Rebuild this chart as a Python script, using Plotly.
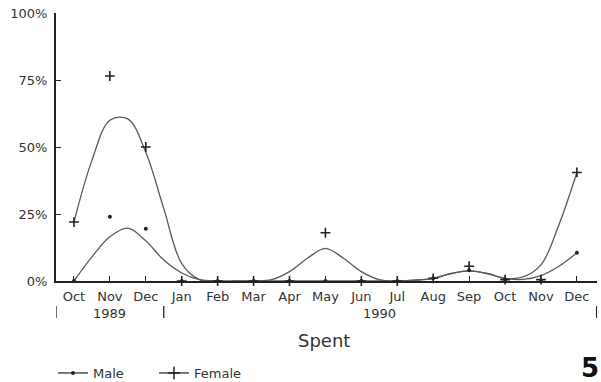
import plotly.graph_objects as go

months = ["Oct", "Nov", "Dec", "Jan", "Feb", "Mar", "Apr", "May",
          "Jun", "Jul", "Aug", "Sep", "Oct", "Nov", "Dec"]
month_pos = list(range(len(months)))

female = [22, 76.5, 50, 0, 0, 0, 0, 18, 0, 0, 1, 5.5, 0.5, 0.5, 40.5]
male = [0, 24, 19.5, 0, 0, 0, 0, 0, 0, 0, 1, 4, 0.5, 0, 10.5]

# smoothed curves at half-month steps
fit_pos = [i * 0.5 for i in range(29)]
female_fit = [22, 45, 60, 60.5, 48, 27, 6.5, 0.5, 0, 0, 0, 0.5, 3.5, 8.5, 12.2,
              8.5, 3.5, 0.5, 0, 0.3, 1, 2.8, 3.8, 2.8, 1, 1.5, 6, 21, 40.5]
male_fit = [0, 9, 16.5, 19.7, 15, 7.8, 3, 0.5, 0, 0, 0, 0, 0, 0, 0,
            0, 0, 0, 0, 0.3, 1, 2.8, 3.8, 2.8, 1, 0.6, 2, 5.5, 10.5]

y_ticks = [0, 25, 50, 75, 100]
y_labels = ["0%", "25%", "50%", "75%", "100%"]
years = ["1989", "1990"]
year_centers = [1, 8.5]
year_bounds = [-0.5, 2.5, 14.55]

LINE = "#5a5a5a"
INK = "#222222"
TXT = "#333333"
FONT = "DejaVu Sans"

fig = go.Figure()
fig.add_trace(go.Scatter(x=fit_pos, y=female_fit, mode="lines",
                         line=dict(color=LINE, width=1.3, shape="spline", smoothing=1.0),
                         showlegend=False, hoverinfo="skip", cliponaxis=False))
fig.add_trace(go.Scatter(x=fit_pos, y=male_fit, mode="lines",
                         line=dict(color=LINE, width=1.3, shape="spline", smoothing=1.0),
                         showlegend=False, hoverinfo="skip", cliponaxis=False))
fig.add_trace(go.Scatter(x=month_pos, y=female, mode="markers",
                         marker=dict(symbol="cross-thin", size=7, color=INK,
                                     line=dict(color=INK, width=1.6)),
                         showlegend=False, cliponaxis=False))
fig.add_trace(go.Scatter(x=month_pos, y=male, mode="markers",
                         marker=dict(symbol="circle", size=4, color=INK),
                         showlegend=False, cliponaxis=False))
# legend entries
fig.add_trace(go.Scatter(x=[None], y=[None], mode="lines+markers", name="Male",
                         line=dict(color=INK, width=1.2),
                         marker=dict(symbol="circle", size=4, color=INK)))
fig.add_trace(go.Scatter(x=[None], y=[None], mode="lines+markers", name="Female",
                         line=dict(color=INK, width=1.2),
                         marker=dict(symbol="cross-thin", size=9, color=INK,
                                     line=dict(color=INK, width=1.5))))

H = 268.0
def py(p):
    return (281 - p) / H

shapes = []
for b in year_bounds:
    shapes.append(dict(type="line", xref="x", yref="paper", x0=b, x1=b,
                       y0=py(306), y1=py(318), line=dict(color=INK, width=1.3)))

annotations = []
for t, c in zip(years, year_centers):
    annotations.append(dict(text=t, x=c, xref="x", y=py(313), yref="paper",
                            showarrow=False, font=dict(size=13, color=TXT, family=FONT),
                            xanchor="center", yanchor="middle"))
annotations.append(dict(text="Spent", x=6.95, xref="x", y=py(340), yref="paper",
                        showarrow=False, font=dict(size=18, color=TXT, family=FONT),
                        xanchor="center", yanchor="middle"))
annotations.append(dict(text="<b>5</b>", x=(601 - 56) / 541, xref="paper", y=py(368),
                        yref="paper", showarrow=False,
                        font=dict(size=26, color="#111", family=FONT),
                        xanchor="right", yanchor="middle"))

fig.update_layout(
    width=601, height=382,
    margin=dict(l=56, r=4, t=13, b=101),
    paper_bgcolor="white", plot_bgcolor="white",
    font=dict(family=FONT, color=TXT, size=13),
    shapes=shapes, annotations=annotations,
    legend=dict(orientation="h", xref="container", x=53 / 601, xanchor="left",
                yref="container", y=(382 - 373) / 382, yanchor="middle",
                font=dict(size=13, color=TXT, family=FONT),
                itemwidth=30, entrywidth=56, bgcolor="rgba(0,0,0,0)"),
    xaxis=dict(range=[-0.5, 14.56], tickvals=month_pos, ticktext=months,
               automargin=False,
               showgrid=False, zeroline=False, showline=True, linecolor=INK, linewidth=1.5,
               ticks="inside", ticklen=5, tickcolor=INK, tickwidth=1.2,
               ticklabelstandoff=3,
               tickfont=dict(size=13, color=TXT, family=FONT)),
    yaxis=dict(range=[0, 100], tickvals=y_ticks, ticktext=y_labels,
               automargin=False,
               showgrid=False, zeroline=False, showline=True, linecolor=INK, linewidth=2,
               ticks="inside", ticklen=5, tickcolor=INK, tickwidth=1.2,
               ticklabelstandoff=4,
               tickfont=dict(size=13, color=TXT, family=FONT)),
)

fig.write_html("out.html", config={"displayModeBar": False},
               post_script="document.body.style.margin='0';document.body.style.overflow='hidden';")
